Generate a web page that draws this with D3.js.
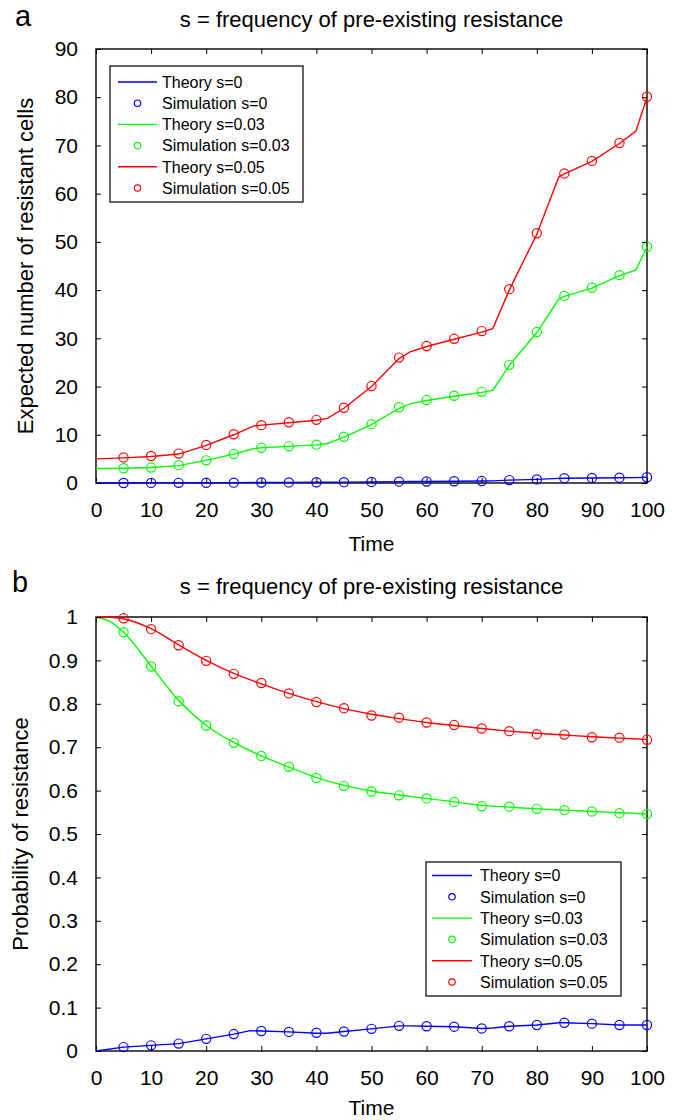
<!DOCTYPE html>
<html>
<head>
<meta charset="utf-8">
<script src="https://cdn.jsdelivr.net/npm/d3@7/dist/d3.min.js"></script>
<style>
  body { margin: 0; background: #fff; }
  svg { display: block; }
  text { font-family: 'Liberation Sans', Arial, sans-serif; fill: #000; }
</style>
</head>
<body>
<div id="chart"></div>
<script>
// ---- data ----
const xTicks = [0, 10, 20, 30, 40, 50, 60, 70, 80, 90, 100]
const simTimes = [5, 10, 15, 20, 25, 30, 35, 40, 45, 50, 55, 60, 65, 70, 75, 80, 85, 90, 95, 100]

// panel a: expected number of resistant cells
const yTicksA = [0, 10, 20, 30, 40, 50, 60, 70, 80, 90]
const theoryTimesA = [0, 5, 10, 15, 20, 25, 28.5, 30, 35, 40, 42, 45, 50, 55, 57, 60, 65, 70, 72, 75, 80, 84, 85, 90, 95, 98, 100]
const theoryA_s0 = [0, 0.01, 0.02, 0.03, 0.05, 0.07, 0.09, 0.1, 0.12, 0.15, 0.16, 0.18, 0.22, 0.28, 0.3, 0.32, 0.36, 0.4, 0.45, 0.6, 0.75, 0.95, 1.0, 1.05, 1.1, 1.12, 1.2]
const theoryA_s03 = [3.0, 3.05, 3.2, 3.6, 4.7, 6.0, 7.1, 7.3, 7.6, 7.9, 8.2, 9.5, 12.1, 15.5, 16.4, 17.1, 18.0, 18.8, 19.2, 24.4, 31.2, 38.2, 38.7, 40.4, 43.0, 44.2, 49.0]
const theoryA_s05 = [5.0, 5.2, 5.5, 6.0, 7.8, 10.0, 11.8, 12.0, 12.5, 13.0, 13.4, 15.5, 20.0, 25.8, 27.2, 28.3, 29.8, 31.3, 32.0, 40.0, 51.6, 63.5, 64.1, 66.7, 70.4, 73.0, 80.0]
const simA_s0 = [0.0, 0.02, 0.03, 0.05, 0.07, 0.1, 0.12, 0.15, 0.18, 0.22, 0.28, 0.32, 0.36, 0.4, 0.6, 0.75, 1.0, 1.05, 1.1, 1.2]
const simA_s03 = [3.05, 3.2, 3.7, 4.7, 6.0, 7.3, 7.6, 7.95, 9.6, 12.2, 15.7, 17.2, 18.1, 18.9, 24.5, 31.3, 38.8, 40.5, 43.1, 49.0]
const simA_s05 = [5.3, 5.6, 6.1, 7.9, 10.1, 12.0, 12.6, 13.1, 15.6, 20.1, 26.0, 28.4, 29.9, 31.5, 40.2, 51.8, 64.2, 66.8, 70.5, 80.1]

// panel b: probability of resistance
const yTicksB = [0, 0.1, 0.2, 0.3, 0.4, 0.5, 0.6, 0.7, 0.8, 0.9, 1]
const theoryTimesB = [0, 2.5, 5, 10, 15, 20, 25, 30, 35, 40, 45, 50, 55, 60, 65, 70, 75, 80, 85, 90, 95, 100]
const theoryB_s03 = [1.0, 0.99, 0.965, 0.887, 0.808, 0.75, 0.711, 0.68, 0.654, 0.63, 0.612, 0.599, 0.59, 0.582, 0.574, 0.566, 0.562, 0.558, 0.555, 0.552, 0.549, 0.546]
const theoryB_s05 = [1.0, 0.9995, 0.996, 0.973, 0.936, 0.9, 0.87, 0.846, 0.824, 0.805, 0.789, 0.776, 0.766, 0.757, 0.75, 0.743, 0.737, 0.732, 0.728, 0.724, 0.721, 0.718]
const theoryTimesB0 = [0, 5, 10, 15, 20, 25, 28, 30, 35, 40, 42, 45, 50, 55, 57, 60, 65, 70, 72, 75, 80, 84, 85, 90, 95, 100]
const theoryB_s0 = [0, 0.009, 0.013, 0.017, 0.028, 0.039, 0.047, 0.046, 0.044, 0.041, 0.041, 0.045, 0.051, 0.058, 0.058, 0.057, 0.056, 0.052, 0.053, 0.057, 0.06, 0.065, 0.065, 0.063, 0.06, 0.06]
const simB_s0 = [0.009, 0.013, 0.017, 0.028, 0.039, 0.046, 0.044, 0.042, 0.045, 0.051, 0.058, 0.057, 0.056, 0.052, 0.057, 0.06, 0.065, 0.063, 0.06, 0.06]
const simB_s03 = [0.965, 0.886, 0.806, 0.75, 0.71, 0.68, 0.655, 0.629, 0.611, 0.598, 0.589, 0.582, 0.574, 0.564, 0.563, 0.558, 0.555, 0.552, 0.548, 0.546]
const simB_s05 = [0.997, 0.972, 0.935, 0.899, 0.869, 0.848, 0.824, 0.804, 0.79, 0.773, 0.768, 0.757, 0.751, 0.743, 0.737, 0.73, 0.729, 0.723, 0.722, 0.717]

const legendLabels = ['Theory s=0', 'Simulation s=0', 'Theory s=0.03', 'Simulation s=0.03', 'Theory s=0.05', 'Simulation s=0.05']
const colors = ['#0000ff', '#00ff00', '#ff0000']

const W = 681, H = 1120
const svg = d3.select('#chart').append('svg').attr('width', W).attr('height', H)

function drawPanel(p) {
  const x = d3.scaleLinear().domain([0, 100]).range([96, 647])
  const y = d3.scaleLinear().domain(p.yDomain).range([p.bottom, p.top])
  const g = svg.append('g')

  // frame (drawn under the data)
  g.append('rect')
    .attr('x', x(0)).attr('y', y(p.yDomain[1]))
    .attr('width', x(100) - x(0)).attr('height', y(p.yDomain[0]) - y(p.yDomain[1]))
    .attr('fill', 'none').attr('stroke', '#000').attr('stroke-width', 1.4)

  // data
  p.series.forEach((s, i) => {
    const pts = s.theoryT.map((t, k) => [t, s.theoryV[k]])
    g.append('path')
      .datum(pts)
      .attr('fill', 'none')
      .attr('stroke', colors[i])
      .attr('stroke-width', 1.4)
      .attr('d', d3.line().x(d => x(d[0])).y(d => y(d[1])).curve(s.curve || d3.curveLinear))
    g.append('g').selectAll('circle')
      .data(simTimes.map((t, k) => [t, s.sim[k]]))
      .join('circle')
      .attr('cx', d => x(d[0]))
      .attr('cy', d => y(d[1]))
      .attr('r', 4.6)
      .attr('fill', 'none')
      .attr('stroke', colors[i])
      .attr('stroke-width', 1.2)
  })

  // axes with inward ticks on all four sides
  const fmt = p.fmt
  const styleAxis = sel => {
    sel.select('.domain').remove()
    sel.selectAll('line').attr('stroke', '#000').attr('stroke-width', 1)
    sel.selectAll('text').attr('fill', '#000').style('font-size', '21px')
      .style('font-family', "'Liberation Sans', Arial, sans-serif")
  }
  g.append('g').attr('transform', `translate(0,${p.bottom})`)
    .call(d3.axisBottom(x).tickValues(xTicks).tickSize(-5).tickPadding(19).tickFormat(d3.format('d')))
    .call(styleAxis)
  g.append('g').attr('transform', `translate(0,${p.top})`)
    .call(d3.axisTop(x).tickValues(xTicks).tickSize(-5).tickFormat(''))
    .call(styleAxis)
  g.append('g').attr('transform', `translate(${x(0)},0)`)
    .call(d3.axisLeft(y).tickValues(p.yTicks).tickSize(-5).tickPadding(18).tickFormat(fmt))
    .call(styleAxis)
  g.append('g').attr('transform', `translate(${x(100)},0)`)
    .call(d3.axisRight(y).tickValues(p.yTicks).tickSize(-5).tickFormat(''))
    .call(styleAxis)

  // texts
  svg.append('text').attr('x', p.letterX).attr('y', p.letterY)
    .style('font-size', '29px').text(p.letter)
  svg.append('text').attr('x', (x(0) + x(100)) / 2).attr('y', p.titleY)
    .attr('text-anchor', 'middle').style('font-size', '22px')
    .text('s = frequency of pre-existing resistance')
  svg.append('text').attr('x', (x(0) + x(100)) / 2).attr('y', p.bottom + p.timeDy)
    .attr('text-anchor', 'middle').style('font-size', '21px').text('Time')
  svg.append('text')
    .attr('transform', `translate(${p.yLabelX},${(p.top + p.bottom) / 2}) rotate(-90)`)
    .attr('text-anchor', 'middle').style('font-size', '22px').text(p.yLabel)

  // legend
  const L = p.legend
  const lg = svg.append('g')
  lg.append('rect').attr('x', L.x).attr('y', L.y).attr('width', L.w).attr('height', L.h)
    .attr('fill', '#fff').attr('stroke', '#000').attr('stroke-width', 1.2)
  legendLabels.forEach((lab, k) => {
    const ry = L.row0 + k * L.step
    const c = colors[Math.floor(k / 2)]
    if (k % 2 === 0) {
      lg.append('line').attr('x1', L.lineX1).attr('x2', L.lineX2).attr('y1', ry).attr('y2', ry)
        .attr('stroke', c).attr('stroke-width', 1.4)
    } else {
      lg.append('circle').attr('cx', (L.lineX1 + L.lineX2) / 2).attr('cy', ry).attr('r', 3.2)
        .attr('fill', 'none').attr('stroke', c).attr('stroke-width', 1.2)
    }
    lg.append('text').attr('x', L.textX).attr('y', ry + 5.8).style('font-size', '16px').text(lab)
  })
}

drawPanel({
  top: 49, bottom: 483, yDomain: [0, 90], yTicks: yTicksA, fmt: d3.format('d'),
  letter: 'a', letterX: 15, letterY: 26, titleY: 26.5, timeDy: 68,
  yLabel: 'Expected number of resistant cells', yLabelX: 33,
  series: [
    { theoryT: theoryTimesA, theoryV: theoryA_s0, sim: simA_s0 },
    { theoryT: theoryTimesA, theoryV: theoryA_s03, sim: simA_s03 },
    { theoryT: theoryTimesA, theoryV: theoryA_s05, sim: simA_s05 }
  ],
  legend: { x: 110, y: 66, w: 193, h: 136, row0: 82, step: 21.2, lineX1: 118, lineX2: 157, textX: 162 }
})

drawPanel({
  top: 617, bottom: 1051, yDomain: [0, 1], yTicks: yTicksB, fmt: d => String(Math.round(d * 10) / 10),
  letter: 'b', letterX: 12, letterY: 592, titleY: 594, timeDy: 64,
  yLabel: 'Probability of resistance', yLabelX: 28,
  series: [
    { theoryT: theoryTimesB0, theoryV: theoryB_s0, sim: simB_s0 },
    { theoryT: theoryTimesB, theoryV: theoryB_s03, sim: simB_s03, curve: d3.curveMonotoneX },
    { theoryT: theoryTimesB, theoryV: theoryB_s05, sim: simB_s05, curve: d3.curveMonotoneX }
  ],
  legend: { x: 426, y: 862, w: 195, h: 134, row0: 875.5, step: 21.3, lineX1: 432, lineX2: 472, textX: 480 }
})
</script>
</body>
</html>
